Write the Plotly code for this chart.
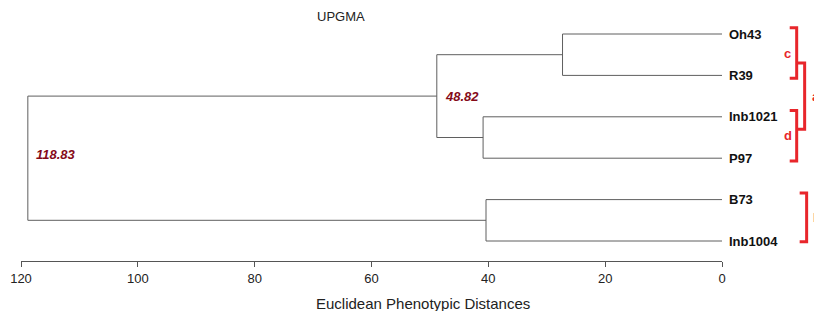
import plotly.graph_objects as go

# ---- data ----
leaves = ["Oh43", "R39", "Inb1021", "P97", "B73", "Inb1004"]
merge_names = ["n1", "n2", "n3", "n4", "n5"]
merge_left = ["Oh43", "Inb1021", "B73", "n1", "n4"]
merge_right = ["R39", "P97", "Inb1004", "n2", "n3"]
merge_height = [27.3, 40.9, 40.4, 48.82, 118.83]
node_labels = {"n4": "48.82", "n5": "118.83"}
tick_vals = [120, 100, 80, 60, 40, 20, 0]

# bracket groups: (label, first leaf, last leaf)
groups_inner = [("c", "Oh43", "R39"), ("d", "Inb1021", "P97")]
groups_outer = [("a", "n1", "n2"), ("b", "B73", "Inb1004")]

# ---- layout geometry ----
W, H = 814, 311
L, R, T, B = 18, 92, 10, 50
pw = W - L - R
ph = H - T - B

pos = {}
for i, name in enumerate(leaves):
    pos[name] = (0.0, float(i))
for n, a, b, h in zip(merge_names, merge_left, merge_right, merge_height):
    pos[n] = (h, (pos[a][1] + pos[b][1]) / 2)

xs, ys = [], []
for n, a, b, h in zip(merge_names, merge_left, merge_right, merge_height):
    xa, ya = pos[a]
    xb, yb = pos[b]
    xs += [xa, h, h, xb, None]
    ys += [ya, ya, yb, yb, None]

fig = go.Figure()
fig.add_trace(go.Scatter(x=xs, y=ys, mode="lines",
                         line=dict(color="#5f5f5f", width=1),
                         hoverinfo="skip", showlegend=False))

font = "Arial, Liberation Sans, sans-serif"
ann = []
for name in leaves:
    x, y = pos[name]
    ann.append(dict(x=x, y=y, xref="x", yref="y", text="<b>%s</b>" % name,
                    showarrow=False, xanchor="left", yanchor="middle", xshift=5,
                    font=dict(family=font, size=13, color="#111")))
for n, t in node_labels.items():
    x, y = pos[n]
    ann.append(dict(x=x, y=y, xref="x", yref="y", text="<b><i>%s</i></b>" % t,
                    showarrow=False, xanchor="left", yanchor="middle", xshift=6,
                    yshift=4 if n == "n5" else 0,
                    font=dict(family=font, size=13, color="#850a18")))

red = "#e8262b"
def px2paper(p):
    return (p - L) / pw

shapes = []
def bracket(y0, y1, xin, xout):
    shapes.append(dict(type="path", xref="paper", yref="y",
                       path="M %f,%f L %f,%f L %f,%f L %f,%f" % (
                           px2paper(xin), y0, px2paper(xout), y0,
                           px2paper(xout), y1, px2paper(xin), y1),
                       line=dict(color=red, width=3)))

for lab, a, b in groups_inner:
    y0, y1 = pos[a][1] - 0.15, pos[b][1] + 0.07
    bracket(y0, y1, 790, 797)
    ann.append(dict(x=px2paper(788), y=(y0 + y1) / 2, xref="paper", yref="y",
                    text="<b>%s</b>" % lab, showarrow=False, xanchor="center",
                    yanchor="middle",
                    font=dict(family=font, size=13, color=red)))

lab, a, b = groups_outer[0]
y0, y1 = pos[a][1] + 0.2, pos[b][1] - 0.2
bracket(y0, y1, 798, 805)
ann.append(dict(x=px2paper(810), y=(y0 + y1) / 2, xref="paper", yref="y",
                text="<b>%s</b>" % lab, showarrow=False, xanchor="left", yanchor="middle",
                font=dict(family=font, size=13, color=red)))
lab, a, b = groups_outer[1]
y0, y1 = pos[a][1] - 0.16, pos[b][1] + 0.02
bracket(y0, y1, 800, 807)
ann.append(dict(x=px2paper(811), y=(y0 + y1) / 2, xref="paper", yref="y",
                text="<b>%s</b>" % lab, showarrow=False, xanchor="left", yanchor="middle",
                font=dict(family=font, size=13, color=red)))

ann.append(dict(x=px2paper(339), y=(T + ph - 17) / ph, xref="paper", yref="paper",
                text="UPGMA", showarrow=False, xanchor="center", yanchor="middle",
                font=dict(family=font, size=13, color="#222")))
ann.append(dict(x=px2paper(422), y=(ph + T - 303) / ph, xref="paper", yref="paper",
                text="Euclidean Phenotypic Distances", showarrow=False,
                xanchor="center", yanchor="middle",
                font=dict(family=font, size=15, color="#222")))

step = 41.4
fig.update_layout(
    width=W, height=H,
    margin=dict(l=L, r=R, t=T, b=B, pad=0),
    paper_bgcolor="white", plot_bgcolor="white",
    xaxis=dict(range=[120, 0], tickvals=tick_vals, showgrid=False, zeroline=False,
               showline=True, linecolor="#555", linewidth=1,
               ticks="outside", ticklen=5, tickcolor="#555",
               tickfont=dict(family=font, size=13, color="#222")),
    yaxis=dict(range=[(H - B - 34) / step, (T - 34) / step], visible=False,
               showgrid=False, zeroline=False),
    annotations=ann, shapes=shapes,
)
fig.write_html("out.html", config={"displayModeBar": False},
               post_script="document.body.style.margin='0';document.body.style.overflow='hidden';")
